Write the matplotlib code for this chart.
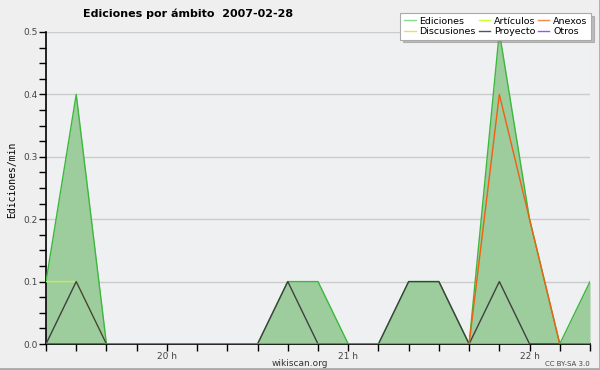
import matplotlib
matplotlib.use("Agg")
import matplotlib.pyplot as plt
from matplotlib.ticker import MultipleLocator, FixedLocator
from matplotlib.lines import Line2D

# 10-minute steps from 19:20 to 22:20 (edits per minute)
start_hour = 19 + 20 / 60
n_points = 19
ediciones = [0.1, 0.4, 0, 0, 0, 0, 0, 0, 0.1, 0.1, 0, 0, 0.1, 0.1, 0, 0.5, 0.2, 0, 0.1]
articulos = [0.1, 0.1, 0, 0, 0, 0, 0, 0, 0, 0, 0, 0, 0, 0, 0, 0, 0, 0, 0]
anexos = [0, 0, 0, 0, 0, 0, 0, 0, 0, 0, 0, 0, 0, 0, 0, 0.4, 0.2, 0, 0]
proyecto = [0, 0.1, 0, 0, 0, 0, 0, 0, 0.1, 0, 0, 0, 0.1, 0.1, 0, 0.1, 0, 0, 0]
hour_ticks = [20, 21, 22]
hour_labels = ["20 h", "21 h", "22 h"]

x = [start_hour + i / 6 for i in range(n_points)]

fig = plt.figure(figsize=(6, 3.7), dpi=100)
fig.patch.set_facecolor("#efefef")
ax = fig.add_axes([46 / 600, 1 - 344 / 370, 544 / 600, 312 / 370])
ax.set_facecolor("#eff0f2")

ax.fill_between(x, ediciones, 0, color="#9dcc9d", lw=0, zorder=2)
ax.plot(x, ediciones, color="#3cb83c", lw=1, zorder=3)
ax.plot(x, articulos, color="#ccee44", lw=1, zorder=3)
ax.plot(x, proyecto, color="#404040", lw=1, zorder=4)
ax.plot(x, anexos, color="#f06010", lw=1, zorder=5)

ax.set_xlim(x[0], x[-1])
ax.set_ylim(0, 0.5)
ax.xaxis.set_major_locator(FixedLocator(hour_ticks))
ax.set_xticklabels(hour_labels)
ax.xaxis.set_minor_locator(MultipleLocator(1 / 6))
ax.yaxis.set_major_locator(MultipleLocator(0.1))
ax.yaxis.set_minor_locator(MultipleLocator(0.025))
ax.yaxis.set_major_formatter(matplotlib.ticker.FormatStrFormatter("%.1f"))
ax.tick_params(which="both", direction="out", length=5, width=1, color="black",
               labelsize=6.5, labelcolor="#444444", pad=1)
ax.grid(axis="y", color="#cccccc", lw=1, zorder=1)
for side in ["top", "right"]:
    ax.spines[side].set_visible(False)
ax.spines["left"].set_linewidth(1.2)
ax.spines["bottom"].set_linewidth(1.2)

fig.text(12 / 600, 1 - 180 / 370, "Ediciones/min", family="DejaVu Sans Mono", fontsize=7,
         rotation=90, ha="center", va="center")

fig.text(188 / 600, 1 - 14 / 370, "Ediciones por ámbito  2007-02-28", ha="center", va="center",
         fontsize=8, fontweight="bold")
fig.text(300 / 600, 1 - 363 / 370, "wikiscan.org", ha="center", va="center", fontsize=6.5,
         color="#333333")
fig.text(590 / 600, 1 - 364 / 370, "CC BY-SA 3.0", ha="right", va="center", fontsize=5,
         color="#444444")

handles = [
    Line2D([], [], color="#88dd88", lw=1),
    Line2D([], [], color="#eedd55", lw=1),
    Line2D([], [], color="#ccff33", lw=1),
    Line2D([], [], color="#555555", lw=1),
    Line2D([], [], color="#ee8855", lw=1),
    Line2D([], [], color="#9955ee", lw=1),
]
labels = ["Ediciones", "Discusiones", "Artículos", "Proyecto", "Anexos", "Otros"]
leg = fig.legend(handles, labels, loc="upper right", bbox_to_anchor=(596 / 600, 1 - 8 / 370),
                 ncol=3, fontsize=6.8, frameon=True, fancybox=False, shadow={"color": "#888888"},
                 handlelength=1.2, handletextpad=0.4, columnspacing=0.3, labelspacing=0.15,
                 borderpad=0.4)
leg.get_frame().set_edgecolor("#aaaaaa")
leg.get_frame().set_linewidth(0.8)

# grey border on right and bottom
fig.add_artist(Line2D([0, 1, 1], [0.002, 0.002, 1], transform=fig.transFigure,
                      color="#aaaaaa", lw=2))

fig.savefig("out.png", dpi=100)
